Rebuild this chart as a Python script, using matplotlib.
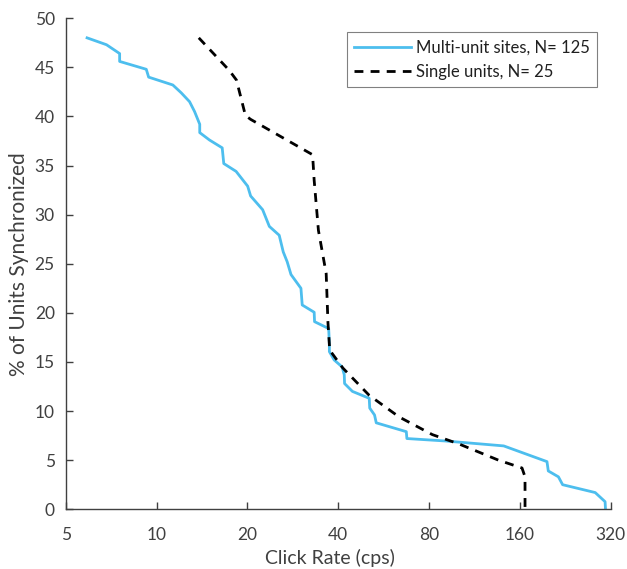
import numpy as np
import matplotlib.pyplot as plt
from matplotlib.ticker import FixedLocator, FixedFormatter, NullLocator

# ── data ──────────────────────────────────────────────
multi_x = [5.88, 6.82, 7.54, 7.54, 9.24, 9.41, 11.32, 12.07, 12.86, 13.36,
           13.9, 13.9, 14.97, 16.5, 16.7, 18.35, 20.04, 20.5, 22.47, 23.65,
           25.5, 26.3, 27.1, 27.9, 30.1, 30.4, 33.3, 33.4, 37.2, 37.4,
           37.4, 38.8, 41.2, 41.9, 42.0, 44.6, 50.7, 50.9, 52.8, 53.5,
           67.3, 67.6, 90.9, 141.6, 197, 199, 215, 222, 284.7, 307, 308]
multi_y = [48.0, 47.3, 46.4, 45.6, 44.8, 44.0, 43.2, 42.4, 41.5, 40.5,
           39.2, 38.35, 37.6, 36.8, 35.2, 34.4, 32.9, 31.9, 30.5, 28.8,
           27.9, 26.2, 25.2, 23.9, 22.5, 20.8, 20.06, 19.1, 18.4, 16.9,
           16.05, 15.2, 14.5, 13.7, 12.8, 12.0, 11.3, 10.3, 9.6, 8.8,
           7.9, 7.2, 6.95, 6.45, 4.85, 3.9, 3.3, 2.5, 1.7, 0.77, 0.0]

single_x = [13.8, 17.4, 18.4, 19.7, 20.5, 32.9, 33.3, 34.4, 36.5, 37.0,
            37.5, 41.4, 50.7, 63.7, 82.1, 100.6, 136, 162.8, 166.6, 166.6]
single_y = [48.0, 44.7, 43.7, 40.1, 39.7, 36.1, 33.5, 28.4, 24.0, 19.0,
            16.2, 14.4, 11.6, 9.4, 7.6, 6.65, 5.0, 4.2, 3.3, 0.0]

x_ticks = [5, 10, 20, 40, 80, 160, 320]
y_ticks = [0, 5, 10, 15, 20, 25, 30, 35, 40, 45, 50]

TXT = "#404040"
plt.rcParams["font.family"] = ["Lato", "DejaVu Sans"]

fig = plt.figure(figsize=(6.27, 5.69), dpi=100)
ax = fig.add_axes([0.105, 0.105, 0.870, 0.863])

ax.plot(multi_x, multi_y, color="#4DBEEE", lw=2.0,
        label="Multi-unit sites, N= 125")
ax.plot(single_x, single_y, color="black", lw=2.0, ls=(0, (3.2, 2.6)),
        label="Single units, N= 25")

ax.set_xscale("log", base=2)
ax.set_xlim(5, 322)
ax.set_ylim(0, 50)
ax.xaxis.set_major_locator(FixedLocator(x_ticks))
ax.xaxis.set_major_formatter(FixedFormatter([str(t) for t in x_ticks]))
ax.xaxis.set_minor_locator(NullLocator())
ax.set_yticks(y_ticks)

for s in ["top", "right"]:
    ax.spines[s].set_visible(False)
for s in ["left", "bottom"]:
    ax.spines[s].set_color(TXT)
    ax.spines[s].set_linewidth(1.0)
ax.tick_params(direction="in", length=5, width=1, colors=TXT,
               labelsize=12.5, labelcolor=TXT)
ax.tick_params(axis="x", pad=12.5)
ax.tick_params(axis="y", pad=8)

xl = ax.set_xlabel("Click Rate (cps)", fontsize=14, color=TXT)
yl = ax.set_ylabel("% of Units Synchronized", fontsize=15, color=TXT)
ax.xaxis.set_label_coords(0.485, -0.099)
ax.yaxis.set_label_coords(-0.086, 0.5)
xl.set_va("center")
yl.set_va("center")

leg = ax.legend(loc="upper left", bbox_to_anchor=(0.515, 0.972),
                fontsize=12, handlelength=3.4, handletextpad=0.3,
                borderpad=0.45, labelspacing=0.5, fancybox=False,
                framealpha=1, borderaxespad=0)
leg.get_frame().set_edgecolor("#808080")
leg.get_frame().set_linewidth(0.8)
for t in leg.get_texts():
    t.set_color("#202020")

fig.savefig("out.png", dpi=100)
